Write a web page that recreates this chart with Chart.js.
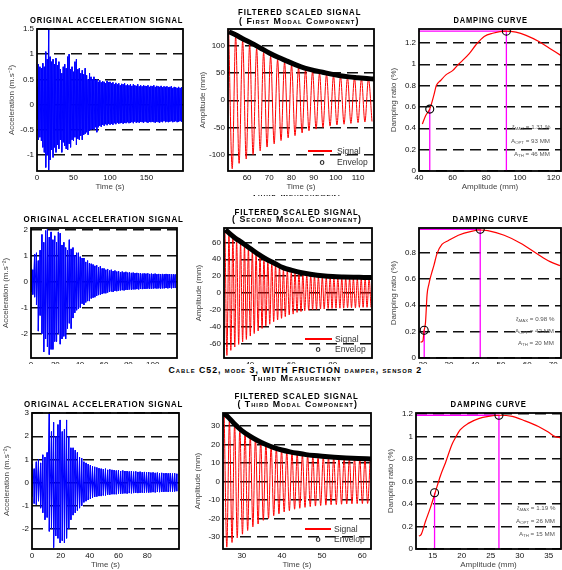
<!DOCTYPE html>
<html>
<head>
<meta charset="utf-8">
<script src="https://cdn.jsdelivr.net/npm/chart.js@4.4.1/dist/chart.umd.min.js"></script>
<style>
  body { margin: 0; background: #fff; width: 562px; height: 570px; overflow: hidden; position: relative; }
  canvas { position: absolute; }
  .lbl { position: absolute; white-space: nowrap; line-height: 1; font-family: "Liberation Sans", Arial, sans-serif; z-index: 6; transform-origin: center center; }
  .ttl { font-weight: bold; font-size: 9px; letter-spacing: 1px; color: #000; }
  .sc { font-variant: small-caps; }
  .leg { font-size: 8.5px; color: #333; }
  .note { font-size: 6.2px; color: #555; }
  .note sub { font-size: 4.3px; vertical-align: -1px; }
  .band { position: absolute; left: 0; width: 562px; background: #fff; z-index: 5; }
</style>
</head>
<body>
<script>
// ---------- record 1 ----------
const acc1Time = [
  0, 2, 4, 6, 8, 10, 12, 14, 16, 18, 20, 22, 24, 26, 28, 30, 32, 34, 36, 38,
  40, 42, 44, 46, 48, 50, 52, 54, 56, 58, 60, 62, 64, 66, 68, 70, 72, 74, 76, 78,
  80, 82, 84, 86, 88, 90, 92, 94, 96, 98, 100, 102, 104, 106, 108, 110, 112, 114, 116, 118,
  120, 122, 124, 126, 128, 130, 132, 134, 136, 138, 140, 142, 144, 146, 148, 150, 152, 154, 156, 158,
  160, 162, 164, 166, 168, 170, 172, 174, 176, 178, 180, 182, 184, 186, 188, 190, 192, 194, 196, 198
];
const acc1Hi = [
  0.35, 0.8, 0.75, 0.72, 0.82, 0.75, 1.05, 0.9, 1.5, 0.95, 0.85, 0.9, 0.8, 0.92, 0.78, 0.85, 0.7, 0.62, 0.75, 0.8,
  0.72, 0.95, 1.0, 0.7, 0.75, 0.65, 0.85, 0.9, 0.7, 0.72, 0.62, 0.68, 0.6, 0.72, 0.58, 0.5, 0.62, 0.55, 0.5, 0.55,
  0.48, 0.5, 0.45, 0.48, 0.44, 0.46, 0.45, 0.42, 0.47, 0.44, 0.45, 0.42, 0.44, 0.4, 0.43, 0.4, 0.42, 0.38, 0.41, 0.4,
  0.42, 0.38, 0.4, 0.38, 0.4, 0.37, 0.4, 0.38, 0.37, 0.4, 0.36, 0.38, 0.36, 0.38, 0.37, 0.36, 0.38, 0.35, 0.37, 0.36,
  0.38, 0.35, 0.37, 0.36, 0.35, 0.37, 0.34, 0.36, 0.35, 0.36, 0.34, 0.35, 0.36, 0.33, 0.35, 0.34, 0.33, 0.35, 0.33, 0.34
];
const acc1Lo = [
  -0.3, -0.7, -0.65, -0.72, -0.85, -0.95, -1.25, -1.0, -1.3, -1.1, -0.9, -1.05, -0.85, -0.95, -0.8, -0.88, -0.7, -0.95, -0.75, -0.82,
  -0.88, -0.9, -0.78, -0.85, -0.7, -0.72, -0.65, -0.8, -0.68, -0.7, -0.62, -0.7, -0.6, -0.58, -0.55, -0.6, -0.52, -0.5, -0.48, -0.5,
  -0.45, -0.55, -0.45, -0.42, -0.44, -0.4, -0.42, -0.39, -0.41, -0.38, -0.4, -0.38, -0.4, -0.37, -0.39, -0.36, -0.38, -0.37, -0.36, -0.38,
  -0.36, -0.37, -0.35, -0.37, -0.36, -0.35, -0.37, -0.34, -0.36, -0.35, -0.36, -0.34, -0.35, -0.36, -0.34, -0.35, -0.36, -0.34, -0.35, -0.34,
  -0.35, -0.36, -0.34, -0.35, -0.36, -0.34, -0.35, -0.33, -0.35, -0.34, -0.35, -0.34, -0.33, -0.35, -0.34, -0.33, -0.35, -0.34, -0.33, -0.34
];
const sig1Time = [
  51.7, 53.3, 54.85, 56.4, 58.0, 59.6, 61.15, 62.7, 64.3, 65.9, 67.45, 69.0, 70.6, 72.2, 73.75, 75.3, 76.9, 78.5, 80.05, 81.6, 83.2,
  84.8, 86.35, 87.9, 89.5, 91.1, 92.65, 94.2, 95.8, 97.4, 98.95, 100.5, 102.1, 103.7, 105.25, 106.8, 108.4, 110.0, 111.55, 113.1, 114.7, 116.3
];
const sig1Val = [
  130, -126, 118, -116, 110, -108, 102, -100, 95, -93, 88, -86, 81, -80, 75, -74, 70, -69, 65, -65, 60,
  -60, 56, -56, 53, -53, 50, -50, 48, -47.5, 45.5, -45.5, 44, -44, 42, -42.5, 41, -41, 40, -40, 39, -39
];
const env1Time = [51.8, 55, 58, 62, 66, 70, 74, 78, 82, 86, 90, 94, 98, 102, 106, 110, 114, 117.2];
const env1Val = [126, 120, 113, 105, 96, 87, 79, 72, 65, 59, 55, 51.5, 48, 45, 43, 41.5, 40, 39];
const damp1Amp = [42, 44, 46.4, 49, 50.3, 53, 56, 60, 62.9, 64.9, 69.9, 73.8, 78.8, 83.8, 91.7, 97.7, 103.7, 111.6, 117.6, 124.6];
const damp1Ratio = [0.44, 0.52, 0.58, 0.72, 0.8, 0.85, 0.9, 0.94, 0.99, 1.02, 1.1, 1.18, 1.26, 1.29, 1.31, 1.3, 1.27, 1.21, 1.15, 1.08];
const damp1Marks = { ath: 46.4, athRatio: 0.58, aopt: 92, maxRatio: 1.31 };

// ---------- record 2 ----------
const acc2Time = [
  0, 1.5, 3, 4.5, 6, 7.5, 9, 10.5, 12, 13.5, 15, 16.5, 18, 19.5, 21, 22.5, 24, 25.5, 27, 28.5,
  30, 31.5, 33, 34.5, 36, 37.5, 39, 40.5, 42, 43.5, 45, 46.5, 48, 49.5, 51, 52.5, 54, 55.5, 57, 58.5,
  60, 61.5, 63, 64.5, 66, 67.5, 69, 70.5, 72, 73.5, 75, 76.5, 78, 79.5, 81, 82.5, 84, 85.5, 87, 88.5,
  90, 91.5, 93, 94.5, 96, 97.5, 99, 100.5, 102, 103.5, 105, 106.5, 108, 109.5, 111, 112.5, 114, 115.5, 117, 118.5
];
const acc2Hi = [
  0.5, 0.45, 1.05, 1.1, 0.8, 1.2, 1.8, 1.5, 1.95, 2.0, 1.7, 1.9, 1.6, 1.75, 1.5, 1.9, 1.85, 1.4, 1.5, 1.3,
  1.2, 1.6, 1.25, 1.3, 1.0, 1.1, 1.1, 0.95, 0.9, 0.9, 0.75, 0.8, 0.7, 0.68, 0.65, 0.6, 0.62, 0.55, 0.58, 0.5,
  0.5, 0.45, 0.48, 0.42, 0.45, 0.4, 0.42, 0.38, 0.4, 0.36, 0.38, 0.35, 0.37, 0.34, 0.35, 0.33, 0.34, 0.32, 0.33, 0.31,
  0.32, 0.3, 0.31, 0.3, 0.31, 0.29, 0.3, 0.29, 0.3, 0.28, 0.29, 0.28, 0.29, 0.28, 0.29, 0.28, 0.28, 0.27, 0.28, 0.27
];
const acc2Lo = [
  -0.4, -0.5, -0.6, -0.9, -1.9, -1.3, -2.0, -2.7, -2.2, -2.5, -2.8, -2.6, -2.6, -2.3, -2.3, -2.0, -2.4, -2.2, -2.1, -2.2,
  -1.8, -1.6, -1.8, -1.4, -1.2, -1.1, -1.05, -1.0, -0.85, -0.9, -0.8, -0.75, -0.75, -0.65, -0.62, -0.6, -0.55, -0.52, -0.5, -0.48,
  -0.45, -0.45, -0.42, -0.4, -0.38, -0.4, -0.36, -0.37, -0.35, -0.34, -0.33, -0.34, -0.32, -0.32, -0.3, -0.31, -0.3, -0.3, -0.29, -0.3,
  -0.28, -0.29, -0.28, -0.28, -0.27, -0.28, -0.27, -0.27, -0.26, -0.27, -0.26, -0.27, -0.26, -0.26, -0.25, -0.26, -0.25, -0.26, -0.25, -0.25
];
const sig2Time = [
  28.0, 28.9, 29.9, 30.8, 31.8, 32.7, 33.6, 34.6, 35.5, 36.5, 37.4, 38.3, 39.3, 40.2, 41.2, 42.1, 43.0, 44.0, 44.9, 45.9,
  46.8, 47.7, 48.7, 49.6, 50.6, 51.5, 52.4, 53.4, 54.3, 55.3, 56.2, 57.1, 58.1, 59.0, 60.0, 60.9, 61.8, 62.8, 63.7, 64.7,
  65.6, 66.5, 67.5, 68.4, 69.4, 70.3, 71.2, 72.2, 73.1, 74.1, 75.0, 75.9, 76.9, 77.8, 78.8, 79.7, 80.6, 81.6, 82.5, 83.5,
  84.4, 85.3, 86.3, 87.2, 88.2, 89.1, 90.0, 91.0, 91.9, 92.9, 93.8, 94.7, 95.7, 96.6, 97.6, 98.5
];
const sig2Val = [
  74, -74, 70, -68, 66, -64, 63, -61, 60, -58, 57, -55, 53, -51, 50, -48, 47, -45, 44, -42,
  41, -39, 38, -37, 36, -34, 33, -32, 31, -30, 28, -28, 27, -26, 25, -25, 24, -23, 23, -22,
  22, -21, 21, -20.5, 20.5, -20, 20, -19.5, 19.5, -19, 19, -19, 18.5, -18.5, 18.5, -18.5, 18, -18, 18, -18,
  17.5, -18, 17.5, -17.5, 17.5, -17.5, 17, -17.5, 17, -17, 17, -17, 17, -17, 17, -17
];
const env2Time = [28.2, 30, 33, 36, 40, 44, 48, 52, 56, 60, 65, 70, 75, 80, 85, 90, 95, 99];
const env2Val = [75, 71, 65, 60, 53, 46, 40, 35, 30, 27, 24, 22, 20.5, 19.5, 19, 18.7, 18.5, 18.3];
const damp2Amp = [19.1, 20, 20.4, 21, 21.6, 22.3, 23.3, 24.2, 25.4, 27.3, 29.8, 33.6, 38.6, 42.1, 44.9, 51.2, 57.5, 63.8, 68.8, 72.6];
const damp2Ratio = [0.12, 0.13, 0.2, 0.27, 0.48, 0.56, 0.64, 0.7, 0.79, 0.86, 0.89, 0.93, 0.96, 0.97, 0.965, 0.93, 0.87, 0.79, 0.73, 0.7];
const damp2Marks = { ath: 20.5, athRatio: 0.21, aopt: 42, maxRatio: 0.975 };

// ---------- record 3 ----------
const acc3Time = [
  0, 1.5, 3, 4.5, 6, 7.5, 9, 10.5, 12, 13.5, 15, 16.5, 18, 19.5, 21, 22.5, 24, 25.5, 27, 28.5,
  30, 31.5, 33, 34.5, 36, 37.5, 39, 40.5, 42, 43.5, 45, 46.5, 48, 49.5, 51, 52.5, 54, 55.5, 57, 58.5,
  60, 61.5, 63, 64.5, 66, 67.5, 69, 70.5, 72, 73.5, 75, 76.5, 78, 79.5, 81, 82.5, 84, 85.5, 87, 88.5,
  90, 91.5, 93, 94.5, 96, 97.5, 99, 100.5
];
const acc3Hi = [
  0.8, 0.6, 0.9, 1.0, 0.85, 1.2, 1.1, 1.3, 3.0, 2.2, 2.6, 2.0, 2.5, 2.7, 2.2, 2.3, 2.7, 2.0, 1.5, 1.5,
  1.4, 1.3, 1.1, 1.05, 0.9, 0.85, 0.8, 0.75, 0.7, 0.68, 0.65, 0.62, 0.6, 0.58, 0.6, 0.55, 0.57, 0.55, 0.54, 0.52,
  0.53, 0.5, 0.52, 0.5, 0.5, 0.48, 0.5, 0.47, 0.48, 0.46, 0.47, 0.45, 0.46, 0.44, 0.45, 0.43, 0.44, 0.42, 0.43, 0.41,
  0.42, 0.4, 0.41, 0.4, 0.41, 0.39, 0.4, 0.38
];
const acc3Lo = [
  -0.6, -0.9, -0.95, -0.8, -1.1, -1.3, -1.6, -1.5, -2.1, -2.0, -2.8, -2.3, -2.4, -2.6, -2.5, -2.6, -2.4, -2.0, -1.6, -1.4,
  -1.3, -1.2, -1.1, -1.0, -0.85, -0.8, -0.75, -0.7, -0.65, -0.62, -0.6, -0.58, -0.58, -0.55, -0.55, -0.52, -0.52, -0.5, -0.5, -0.5,
  -0.48, -0.48, -0.47, -0.46, -0.47, -0.45, -0.46, -0.45, -0.44, -0.45, -0.44, -0.43, -0.44, -0.42, -0.43, -0.42, -0.41, -0.42, -0.4, -0.41,
  -0.4, -0.4, -0.39, -0.4, -0.38, -0.39, -0.38, -0.37
];
const sig3Time = [
  25.6, 26.25, 26.9, 27.55, 28.2, 28.85, 29.5, 30.15, 30.8, 31.45, 32.1, 32.75, 33.4, 34.05, 34.7, 35.35, 36.0, 36.65, 37.3, 37.95,
  38.6, 39.25, 39.9, 40.55, 41.2, 41.85, 42.5, 43.15, 43.8, 44.45, 45.1, 45.75, 46.4, 47.05, 47.7, 48.35, 49.0, 49.65, 50.3, 50.95,
  51.6, 52.25, 52.9, 53.55, 54.2, 54.85, 55.5, 56.15, 56.8, 57.45, 58.1, 58.75, 59.4, 60.05, 60.7, 61.35, 62.0
];
const sig3Val = [
  36, -35.5, 33, -33, 31, -30.5, 29, -28.5, 27, -26.5, 25, -24.5, 23.5, -23, 22, -21, 20.5, -20, 19, -18.5,
  18, -17.5, 17, -16.5, 16.3, -15.8, 15.6, -15, 15, -14.5, 14.5, -14, 14.1, -13.6, 13.8, -13.3, 13.5, -13, 13.3, -12.8,
  13.1, -12.6, 13, -12.5, 12.8, -12.3, 12.6, -12.2, 12.5, -12.1, 12.4, -12, 12.3, -12, 12.2, -11.9, 12.1
];
const env3Time = [25.4, 26.5, 28, 30, 32, 34, 36, 38, 40, 42, 44, 46, 48, 50, 53, 56, 59, 62.2];
const env3Val = [37, 35, 31.5, 27.5, 24.5, 22, 20, 18.3, 17, 16, 15.2, 14.5, 14, 13.6, 13.1, 12.7, 12.4, 12.2];
const damp3Amp = [12.6, 13, 13.7, 14.6, 15.4, 16.3, 17.2, 18.3, 18.9, 19.7, 21.2, 22.9, 24.6, 26.4, 28.7, 30.9, 33.2, 34.9, 36.1, 37];
const damp3Ratio = [0.115, 0.13, 0.24, 0.37, 0.5, 0.65, 0.77, 0.93, 0.99, 1.06, 1.12, 1.16, 1.18, 1.19, 1.18, 1.14, 1.09, 1.04, 1.0, 0.99];
const damp3Marks = { ath: 15.3, athRatio: 0.5, aopt: 26.4, maxRatio: 1.19 };

// axis ranges and tick values
const acc1X = [0, 200], acc1Y = [-1.32, 1.5], acc1XT = [0, 50, 100, 150], acc1YT = [-1, -0.5, 0, 0.5, 1, 1.5];
const sig1X = [51.4, 117.2], sig1Y = [-130, 131], sig1XT = [60, 70, 80, 90, 100, 110], sig1YT = [-100, -50, 0, 50, 100];
const damp1X = [40, 124.5], damp1Y = [0, 1.33], damp1XT = [40, 60, 80, 100, 120], damp1YT = [0, 0.2, 0.4, 0.6, 0.8, 1, 1.2];
const acc2X = [0, 120], acc2Y = [-2.93, 2.05], acc2XT = [0, 20, 40, 60, 80, 100], acc2YT = [-2, -1, 0, 1, 2];
const sig2X = [27.5, 99], sig2Y = [-77, 77], sig2XT = [40, 60, 80], sig2YT = [-60, -40, -20, 0, 20, 40, 60];
const damp2X = [18.5, 73], damp2Y = [0, 0.985], damp2XT = [20, 30, 40, 50, 60, 70], damp2YT = [0, 0.2, 0.4, 0.6, 0.8];
const acc3X = [0, 102], acc3Y = [-2.86, 3.0], acc3XT = [0, 20, 40, 60, 80], acc3YT = [-2, -1, 0, 1, 2, 3];
const sig3X = [25.3, 62.2], sig3Y = [-36.5, 37], sig3XT = [30, 40, 50, 60], sig3YT = [-30, -20, -10, 0, 10, 20, 30];
const damp3X = [12.1, 37.1], damp3Y = [0, 1.21], damp3XT = [15, 20, 25, 30, 35], damp3YT = [0, 0.2, 0.4, 0.6, 0.8, 1, 1.2];

const FONT = '"Liberation Sans", Arial, sans-serif';
Chart.defaults.font.family = FONT;
const YW = 30, XH = 21, PT = 8, PR = 6;

const framePlugin = {
  id: 'frame',
  afterDraw(chart) {
    const { ctx, chartArea: a } = chart;
    ctx.save();
    ctx.strokeStyle = '#000';
    ctx.lineWidth = 1.8;
    ctx.strokeRect(a.left, a.top, a.right - a.left, a.bottom - a.top);
    ctx.restore();
  }
};

function axis(range, ticks, title, isY) {
  return {
    type: 'linear', min: range[0], max: range[1],
    afterBuildTicks: s => { s.ticks = ticks.map(v => ({ value: v })); },
    afterFit: s => { if (isY) s.width = YW; else s.height = XH; },
    ticks: { autoSkip: false, maxRotation: 0, padding: isY ? 3 : 2, color: '#111', font: { size: 8 }, callback: v => String(v) },
    grid: { display: isY, drawTicks: false, color: '#111', lineWidth: 1.4 },
    border: { display: false, dash: [11, 6] },
    title: { display: true, text: title, color: '#444', font: { size: 8 }, padding: 0 }
  };
}

function panel(rect, datasets, xr, xt, xTitle, yr, yt, yTitle) {
  const [l, t, r, b] = rect;
  const w = r - l + YW + PR, h = b - t + PT + XH;
  const c = document.createElement('canvas');
  c.width = w; c.height = h;
  c.style.left = (l - YW) + 'px'; c.style.top = (t - PT) + 'px';
  c.style.width = w + 'px'; c.style.height = h + 'px';
  document.body.appendChild(c);
  new Chart(c, {
    type: 'line',
    data: { datasets },
    options: {
      responsive: false, animation: false, devicePixelRatio: 1, events: [],
      layout: { padding: { top: PT, right: PR, left: 0, bottom: 0 } },
      plugins: { legend: { display: false }, tooltip: { enabled: false } },
      scales: { x: axis(xr, xt, xTitle, false), y: axis(yr, yt, yTitle, true) }
    },
    plugins: [framePlugin]
  });
}

function pts(xs, ys) { return xs.map((x, i) => ({ x, y: ys[i] })); }

function accPanel(rect, time, hi, lo, xr, xt, yr, yt) {
  const data = [];
  time.forEach((t, i) => { data.push({ x: t, y: hi[i] }, { x: t, y: lo[i] }); });
  panel(rect, [{ data, borderColor: '#0000ff', borderWidth: 1, pointRadius: 0, tension: 0 }],
    xr, xt, 'Time (s)', yr, yt, 'Acceleration (m.s\u207B\u00B2)');
}

function sigPanel(rect, sT, sV, eT, eV, xr, xt, yr, yt) {
  panel(rect, [
    { data: pts(eT, eV), borderColor: '#000', borderWidth: 5, pointRadius: 0, cubicInterpolationMode: 'monotone' },
    { data: pts(sT, sV), borderColor: '#ff0000', borderWidth: 1, pointRadius: 0, cubicInterpolationMode: 'monotone' }
  ], xr, xt, 'Time (s)', yr, yt, 'Amplitude (mm)');
}

function dampPanel(rect, amp, ratio, m, xr, xt, yr, yt) {
  const mag = { borderColor: '#ff00ff', borderWidth: 1.3, pointRadius: 0, tension: 0 };
  panel(rect, [
    { data: [{ x: m.ath, y: m.athRatio }, { x: m.aopt, y: m.maxRatio }], showLine: false,
      pointRadius: 4, pointBorderColor: '#000', pointBackgroundColor: 'rgba(0,0,0,0)', pointBorderWidth: 1.1 },
    { data: pts(amp, ratio), borderColor: '#ff0000', borderWidth: 1.2, pointRadius: 0, cubicInterpolationMode: 'monotone' },
    Object.assign({ data: [{ x: m.ath, y: 0 }, { x: m.ath, y: m.athRatio }] }, mag),
    Object.assign({ data: [{ x: xr[0], y: m.maxRatio }, { x: m.aopt, y: m.maxRatio }, { x: m.aopt, y: 0 }] }, mag)
  ], xr, xt, 'Amplitude (mm)', yr, yt, 'Damping ratio (%)');
}

accPanel([37, 29, 183, 171], acc1Time, acc1Hi, acc1Lo, acc1X, acc1XT, acc1Y, acc1YT);
sigPanel([228, 29, 374, 171], sig1Time, sig1Val, env1Time, env1Val, sig1X, sig1XT, sig1Y, sig1YT);
dampPanel([419, 29, 561, 171], damp1Amp, damp1Ratio, damp1Marks, damp1X, damp1XT, damp1Y, damp1YT);
accPanel([31, 228, 177, 358], acc2Time, acc2Hi, acc2Lo, acc2X, acc2XT, acc2Y, acc2YT);
sigPanel([224, 228, 372, 358], sig2Time, sig2Val, env2Time, env2Val, sig2X, sig2XT, sig2Y, sig2YT);
dampPanel([419, 228, 561, 358], damp2Amp, damp2Ratio, damp2Marks, damp2X, damp2XT, damp2Y, damp2YT);
accPanel([32, 413, 179, 549], acc3Time, acc3Hi, acc3Lo, acc3X, acc3XT, acc3Y, acc3YT);
sigPanel([223, 413, 371, 549], sig3Time, sig3Val, env3Time, env3Val, sig3X, sig3XT, sig3Y, sig3YT);
dampPanel([416, 413, 561, 549], damp3Amp, damp3Ratio, damp3Marks, damp3X, damp3XT, damp3Y, damp3YT);

// ---------- text overlays ----------
function band(top, height) {
  const d = document.createElement('div');
  d.className = 'band';
  d.style.top = top + 'px'; d.style.height = height + 'px';
  document.body.appendChild(d);
}
function put(html, cx, cy, cls, width, anchor) {
  const d = document.createElement('div');
  d.className = 'lbl ' + cls;
  d.innerHTML = html;
  document.body.appendChild(d);
  const w = d.offsetWidth, h = d.offsetHeight;
  const s = width ? width / w : 1;
  const left = anchor === 'left' ? cx - (w - w * s) / 2 : anchor === 'right' ? cx - w + (w - w * s) / 2 : cx - w / 2;
  d.style.left = left + 'px';
  d.style.top = (cy - h / 2) + 'px';
  if (s !== 1) d.style.transform = 'scaleX(' + s + ')';
  return d;
}

band(364, 21);

put('ORIGINAL ACCELERATION SIGNAL', 106.5, 20, 'ttl', 153);
put('FILTERED SCALED SIGNAL', 299.5, 12, 'ttl', 123);
put('( First Modal Component)', 299, 21, 'ttl sc', 120);
put('DAMPING CURVE', 490, 20, 'ttl', 74);

put('ORIGINAL ACCELERATION SIGNAL', 103, 219, 'ttl', 160);
put('FILTERED SCALED SIGNAL', 296, 212, 'ttl', 124);
put('( Second Modal Component)', 297, 219.5, 'ttl sc', 130);
put('DAMPING CURVE', 490, 219, 'ttl', 76);

put('ORIGINAL ACCELERATION SIGNAL', 103.5, 404, 'ttl', 159);
put('FILTERED SCALED SIGNAL', 296, 396, 'ttl', 124);
put('( Third Modal Component)', 297, 404, 'ttl sc', 120);
put('DAMPING CURVE', 488, 404, 'ttl', 76);

put('Cable C52, mode 3, WITH FRICTION damper, sensor 2', 295, 370, 'ttl sc', 254);
put('Third Measurement', 296, 378.5, 'ttl sc', 90);

// partly hidden line between first and second rows
const cut = document.createElement('div');
cut.style.cssText = 'position:absolute;left:250px;top:195px;width:95px;height:3px;overflow:hidden;z-index:6';
document.body.appendChild(cut);
const cutTxt = put('Third Measurement', 0, 0, 'ttl sc', 90);
cut.appendChild(cutTxt);
cutTxt.style.left = '2px'; cutTxt.style.top = '-6px';

// legends of the filtered panels
function legend(lineX0, lineX1, y1, oX, y2, textX) {
  const ln = document.createElement('div');
  ln.style.cssText = 'position:absolute;z-index:6;height:1.5px;background:#ff0000;left:' + lineX0 + 'px;top:' + (y1 - 0.75) + 'px;width:' + (lineX1 - lineX0) + 'px';
  document.body.appendChild(ln);
  put('Signal', textX, y1, 'leg', 0, 'left').style.left = textX + 'px';
  put('<b>o</b>', oX, y2, 'leg', 0);
  put('Envelop', textX, y2, 'leg', 0, 'left').style.left = textX + 'px';
}
legend(308, 332, 151, 322, 162, 337);
legend(305, 332, 339, 318, 349, 335);
legend(305, 331, 529, 318, 539, 334);

// damping notes, right-aligned
function notes(rightX, ys, texts) {
  texts.forEach((t, i) => {
    const d = put(t, rightX, ys[i], 'note', 0);
    d.style.left = (rightX - d.offsetWidth) + 'px';
  });
}
notes(550, [127, 141, 154], ['&xi;<sub>MAX</sub> = 1.31 %', 'A<sub>OPT</sub> = 93 MM', 'A<sub>TH</sub> = 46 MM']);
notes(554, [319, 331, 343], ['&xi;<sub>MAX</sub> = 0.98 %', 'A<sub>OPT</sub> = 42 MM', 'A<sub>TH</sub> = 20 MM']);
notes(555, [508, 521, 534], ['&xi;<sub>MAX</sub> = 1.19 %', 'A<sub>OPT</sub> = 26 MM', 'A<sub>TH</sub> = 15 MM']);
</script>
</body>
</html>
